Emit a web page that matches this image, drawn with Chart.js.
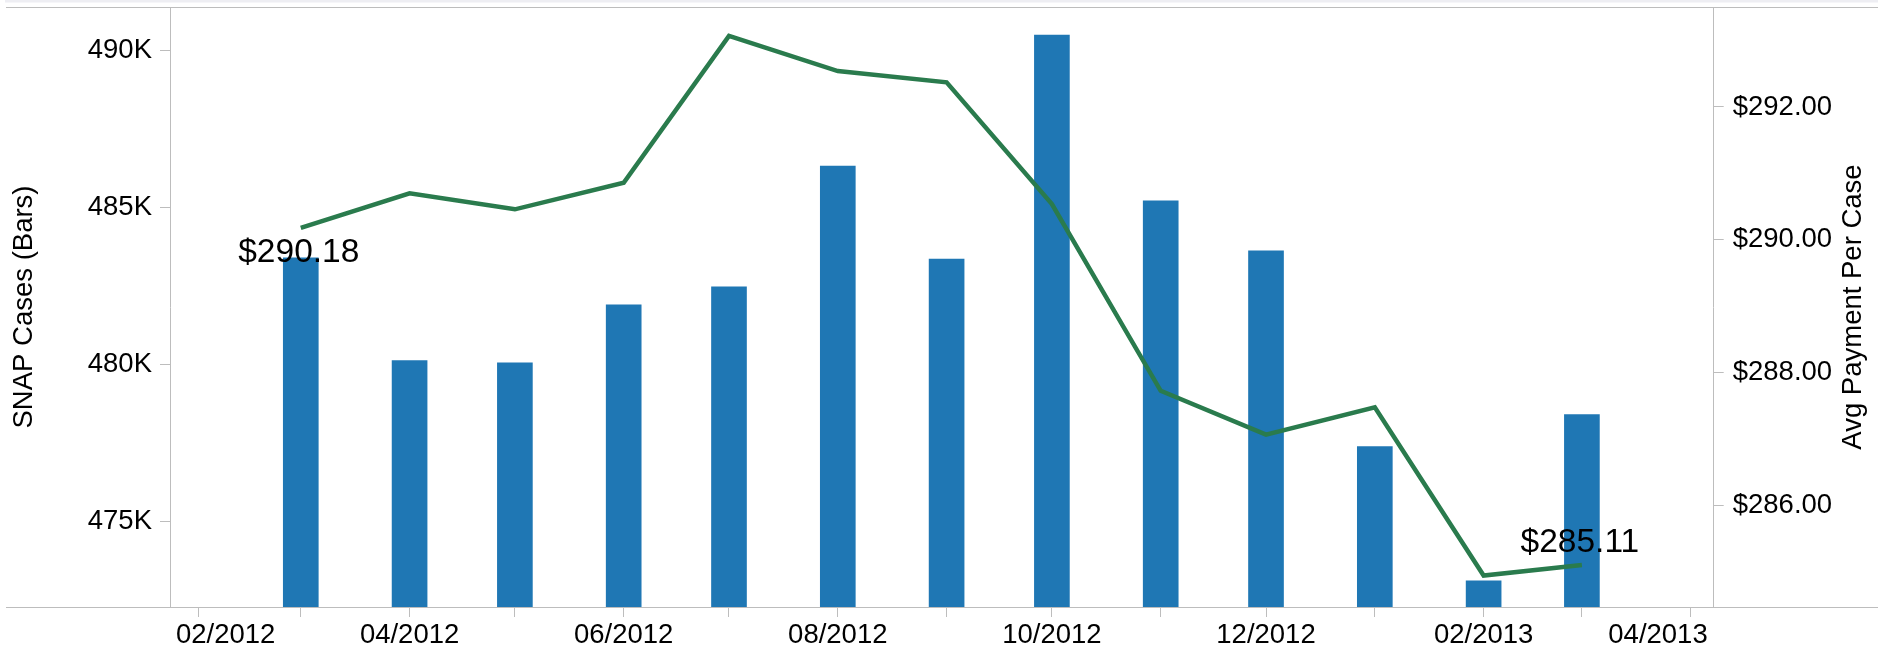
<!DOCTYPE html>
<html>
<head>
<meta charset="utf-8">
<script src="https://cdn.jsdelivr.net/npm/chart.js@4.4.1/dist/chart.umd.min.js"></script>
<style>
  html, body { margin: 0; padding: 0; background: #ffffff; }
  #wrap { width: 1885px; height: 655px; position: relative; }
</style>
</head>
<body>
<div id="wrap"><canvas id="c" width="1885" height="655"></canvas></div>
<script>
// ---- data ----
const months = ['2012-03','2012-04','2012-05','2012-06','2012-07','2012-08','2012-09',
                '2012-10','2012-11','2012-12','2013-01','2013-02','2013-03'];
const snapCases = [483400, 480120, 480050, 481900, 482470, 486320, 483360,
                   490490, 485210, 483620, 477380, 473110, 478400];
const avgPayment = [290.18, 290.70, 290.46, 290.86, 293.07, 292.54, 292.37,
                    290.54, 287.73, 287.07, 287.48, 284.95, 285.11];
const xTickMonths = ['2012-02','2012-03','2012-04','2012-05','2012-06','2012-07','2012-08','2012-09',
                     '2012-10','2012-11','2012-12','2013-01','2013-02','2013-03','2013-04'];
const xTickLabels = ['02/2012','','04/2012','','06/2012','','08/2012','',
                     '10/2012','','12/2012','','02/2013','','04/2013'];
const leftTicks = [475000, 480000, 485000, 490000];
const rightTicks = [286, 288, 290, 292];
const labeledIdx = [0, 12];

// ---- helpers ----
const dayOf = m => { const [y, mo] = m.split('-').map(Number); return Date.UTC(y, mo - 1, 1) / 86400000; };
const fmtMoney = v => '$' + v.toFixed(2);
const FONT = 'Liberation Sans, Arial, Helvetica, sans-serif';
const AXIS_GRAY = '#bdbdbd';

Chart.defaults.font.family = FONT;
Chart.defaults.color = '#000000';

const xTickValues = xTickMonths.map(dayOf);
const noPad = s => { s.paddingTop = 0; s.paddingBottom = 0; s.paddingLeft = 0; s.paddingRight = 0; };

const framePlugin = {
  id: 'frame',
  afterDatasetsDraw(chart) {
    const {ctx, chartArea} = chart;
    ctx.save();
    ctx.fillStyle = '#eeeef3';
    ctx.fillRect(5, 0, chart.width - 12, 2.5);
    ctx.strokeStyle = AXIS_GRAY;
    ctx.lineWidth = 1;
    ctx.beginPath();
    ctx.moveTo(6, chartArea.top + 0.5); ctx.lineTo(chart.width - 7, chartArea.top + 0.5);
    ctx.moveTo(6, chartArea.bottom + 0.5); ctx.lineTo(chart.width - 7, chartArea.bottom + 0.5);
    ctx.stroke();
    ctx.restore();
  },
  afterDraw(chart) {
    const {ctx, chartArea} = chart;
    // right-axis title, reading bottom-to-top
    ctx.save();
    ctx.font = '27.5px ' + FONT;
    ctx.fillStyle = '#000';
    ctx.textAlign = 'center';
    ctx.textBaseline = 'middle';
    ctx.translate(chartArea.right + 140, (chartArea.top + chartArea.bottom) / 2);
    ctx.rotate(-Math.PI / 2);
    ctx.fillText('Avg Payment Per Case', 0, 0);
    ctx.restore();
    // value labels on first / last line points
    const meta = chart.getDatasetMeta(1);
    ctx.save();
    ctx.font = '33.5px ' + FONT;
    ctx.fillStyle = '#000';
    ctx.textAlign = 'center';
    ctx.textBaseline = 'alphabetic';
    labeledIdx.forEach((i, k) => {
      const el = meta.data[i];
      const dy = k === 0 ? 34 : -12.5;
      ctx.fillText(fmtMoney(avgPayment[i]), el.x - 2, el.y + dy);
    });
    ctx.restore();
  },
  beforeDraw(chart) {
    // keep x tick labels inside the plot bounds
    const xs = chart.scales.x;
    const {ctx, chartArea} = chart;
    const items = xs.getLabelItems(chartArea);
    ctx.save();
    ctx.font = '27.5px ' + FONT;
    const inset = 6;
    items.forEach(it => {
      const label = Array.isArray(it.label) ? it.label[0] : it.label;
      if (!label) return;
      const w = ctx.measureText(label).width;
      const x = it.options.translation[0];
      if (x - w / 2 < chartArea.left + inset) {
        it.options.textAlign = 'left';
        it.options.translation[0] = chartArea.left + inset;
      } else if (x + w / 2 > chartArea.right - inset) {
        it.options.textAlign = 'right';
        it.options.translation[0] = chartArea.right - inset;
      }
    });
    ctx.restore();
  }
};

new Chart(document.getElementById('c'), {
  type: 'bar',
  data: {
    datasets: [
      {
        type: 'bar',
        label: 'SNAP Cases',
        data: months.map((m, i) => ({x: dayOf(m), y: snapCases[i]})),
        backgroundColor: '#1f77b4',
        borderWidth: 0,
        barThickness: 35,
        yAxisID: 'y',
        order: 2
      },
      {
        type: 'line',
        label: 'Avg Payment Per Case',
        data: months.map((m, i) => ({x: dayOf(m), y: avgPayment[i]})),
        borderColor: '#2a7b4d',
        borderWidth: 4.5,
        pointRadius: 0,
        tension: 0,
        fill: false,
        borderJoinStyle: 'miter',
        yAxisID: 'y1',
        order: 1
      }
    ]
  },
  options: {
    responsive: false,
    devicePixelRatio: 1,
    animation: false,
    layout: { padding: { top: 7, left: 0, right: 0, bottom: 0 } },
    plugins: { legend: { display: false }, tooltip: { enabled: false } },
    scales: {
      x: {
        type: 'linear',
        offset: false,
        min: dayOf('2012-02') - 8.26,
        max: dayOf('2013-04') + 6.55,
        afterBuildTicks: s => { s.ticks = xTickValues.map(v => ({value: v})); },
        afterFit: s => { s.height = 48; noPad(s); },
        grid: { display: true, drawOnChartArea: false, drawTicks: true, tickLength: 10, color: AXIS_GRAY, offset: false },
        border: { display: false },
        ticks: {
          autoSkip: false, maxRotation: 0, minRotation: 0, padding: 2,
          font: { size: 27.5 }, color: '#000',
          callback: (v, i) => xTickLabels[i]
        }
      },
      y: {
        type: 'linear',
        position: 'left',
        min: 472274,
        max: 491386,
        afterBuildTicks: s => { s.ticks = leftTicks.map(v => ({value: v})); },
        afterFit: s => { s.width = 170; noPad(s); },
        grid: { display: true, drawOnChartArea: false, drawTicks: true, tickLength: 10, color: AXIS_GRAY },
        border: { display: true, color: AXIS_GRAY, width: 1 },
        ticks: { padding: 8, font: { size: 27.5 }, color: '#000', callback: v => (v / 1000) + 'K' },
        title: { display: true, text: 'SNAP Cases (Bars)', font: { size: 27.5 }, color: '#000', padding: { top: 8, bottom: 0 } }
      },
      y1: {
        type: 'linear',
        position: 'right',
        min: 284.477,
        max: 293.504,
        afterBuildTicks: s => { s.ticks = rightTicks.map(v => ({value: v})); },
        afterFit: s => { s.width = 171.3; noPad(s); },
        grid: { display: true, drawOnChartArea: false, drawTicks: true, tickLength: 10, color: AXIS_GRAY },
        border: { display: true, color: AXIS_GRAY, width: 1 },
        ticks: { padding: 9, font: { size: 27.5 }, color: '#000', callback: v => fmtMoney(v) }
      }
    }
  },
  plugins: [framePlugin]
});
</script>
</body>
</html>
